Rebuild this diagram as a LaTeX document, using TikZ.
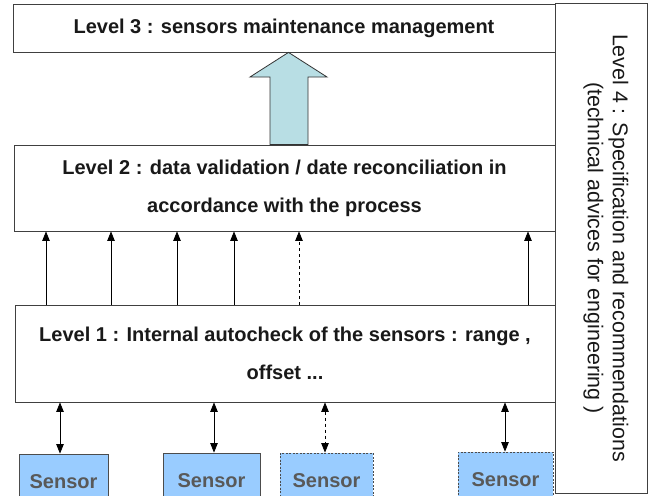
\documentclass[tikz,border=0pt]{standalone}
\usepackage[dvipsnames,svgnames]{xcolor}
\usepackage{fontspec}
\setmainfont{Liberation Sans}
\usetikzlibrary{arrows.meta}
\definecolor{sensorblue}{RGB}{153,204,255}
\definecolor{arrowaqua}{RGB}{184,222,228}

\tikzset{
  level/.style={draw=black!75,line width=0.8pt,fill=white,align=center,inner sep=0pt,
    text=black!90,font=\bfseries\fontsize{20}{38}\selectfont},
  sensor/.style={draw=black!70,line width=0.8pt,fill=sensorblue,inner sep=0pt,
    minimum height=56pt,text=black!65,font=\bfseries\fontsize{20}{22}\selectfont},
  tip/.tip={Triangle[width=7.5pt,length=9.5pt]},
  link/.style={-tip,line width=0.8pt},
  duplex/.style={tip-tip,line width=0.8pt}
}

\begin{document}
\begin{tikzpicture}[x=1pt,y=-1pt]
  \clip (0,0) rectangle (649,496);
  \fill[white] (0,0) rectangle (649,496);

  \node[draw=black!75,line width=0.8pt,minimum width=92pt,minimum height=490pt] (lfour) at (601,248) {};
  \node[rotate=-90,align=center,inner sep=0pt,text=black!90,
    font=\fontsize{21.4}{25}\selectfont] (lfourtext) at (606,248)
    {Level 4 : Specification and recommendations\\(technical advices for engineering )};

  \node[level,minimum width=542pt,minimum height=48pt] (lthree) at (284,28)
    {Level 3 : sensors maintenance management};
  \node[level,minimum width=541pt,minimum height=86pt] (ltwo) at (284.5,188)
    {Level 2 : data validation / date reconciliation in\\accordance with the process};
  \node[level,minimum width=540pt,minimum height=97pt] (lone) at (285,353.5)
    {Level 1 : Internal autocheck of the sensors : range ,\\offset ...};

  \node[sensor,minimum width=89pt] (sone) at (63.5,482) {Sensor};
  \node[sensor,minimum width=97pt] (stwo) at (211.5,481) {Sensor};
  \node[sensor,minimum width=93pt,dash pattern=on 2pt off 1.5pt] (sthree) at (326.5,481) {Sensor};
  \node[sensor,minimum width=95pt,dash pattern=on 2pt off 1.5pt] (sfour) at (505.5,480) {Sensor};

  \draw[line width=0.8pt,draw=black!80,fill=arrowaqua]
    (270,0 |- ltwo.north) -- (270,77) -- (250,77) -- (288.5,0 |- lthree.south)
    -- (327,77) -- (308,77) -- (308,0 |- ltwo.north) -- cycle;

  \foreach \x in {46,111,177,234,528}
    \draw[link] (\x,0 |- lone.north) -- (\x,0 |- ltwo.south);
  \draw[link,dashed] (299,0 |- lone.north) -- (299,0 |- ltwo.south);

  \foreach \x/\s in {60/sone,214/stwo,505/sfour}
    \draw[duplex] (\x,0 |- lone.south) -- (\x,0 |- \s.north);
  \draw[duplex,dashed] (325,0 |- lone.south) -- (325,0 |- sthree.north);
\end{tikzpicture}
\end{document}
